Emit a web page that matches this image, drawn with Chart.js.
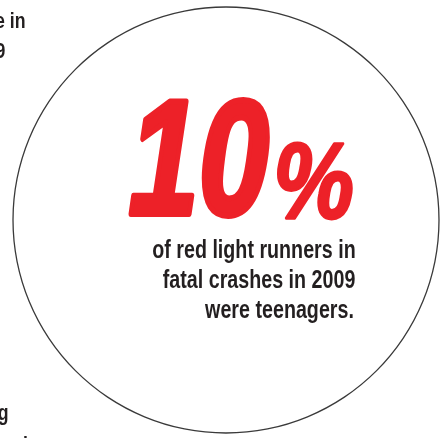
<!DOCTYPE html>
<html>
<head>
<meta charset="utf-8">
<script src="https://cdn.jsdelivr.net/npm/chart.js@4.4.1/dist/chart.umd.min.js"></script>
<style>
  html, body { margin: 0; padding: 0; background: #ffffff; overflow: hidden; }
  #c { display: block; position: absolute; left: 0; top: 0; }
</style>
</head>
<body>
<canvas id="c" width="441" height="438"></canvas>
<script>
// ---- data ----
const circleLabels = ['All red light runners in fatal crashes, 2009'];
const circleShare = [100];            // whole ring = all runners
const headlineValue = [10];           // percent who were teenagers
const headlineUnit = ['%'];
const captionLines = ['of red light runners in', 'fatal crashes in 2009', 'were teenagers.'];
const leftFragmentsTop = ['e in', '9'];
const leftFragmentsBottom = ['g', 'i'];

const RED = '#ed2128';
const INK = '#231f20';

function drawFit(ctx, text, font, color, left, top, right, bottom, weight) {
  ctx.save();
  ctx.font = font;
  ctx.textAlign = 'left';
  ctx.textBaseline = 'alphabetic';
  const m = ctx.measureText(text);
  const inkW = m.actualBoundingBoxLeft + m.actualBoundingBoxRight + weight;
  const inkH = m.actualBoundingBoxAscent + m.actualBoundingBoxDescent + weight;
  const sx = (right - left) / inkW, sy = (bottom - top) / inkH;
  ctx.translate(left, top);
  ctx.scale(sx, sy);
  ctx.fillStyle = color;
  ctx.strokeStyle = color;
  ctx.lineWidth = weight;
  ctx.lineJoin = 'round';
  const x = m.actualBoundingBoxLeft + weight / 2, y = m.actualBoundingBoxAscent + weight / 2;
  ctx.fillText(text, x, y);
  if (weight > 0) ctx.strokeText(text, x, y);
  ctx.restore();
}

function drawRight(ctx, text, rightInk, baseline, sx, sy) {
  ctx.save();
  ctx.textAlign = 'right';
  ctx.textBaseline = 'alphabetic';
  const m = ctx.measureText(text);
  ctx.translate(rightInk, baseline);
  ctx.scale(sx, sy);
  ctx.fillText(text, -m.actualBoundingBoxRight, 0);
  ctx.restore();
}

const textPlugin = {
  id: 'infographicText',
  afterDraw(chart) {
    const ctx = chart.ctx;
    // big "10"
    drawFit(ctx, String(headlineValue[0]), 'bold italic 170px "Liberation Sans", Arial, sans-serif', RED, 128, 97, 270, 219, 6);
    // "%"
    drawFit(ctx, headlineUnit[0], 'bold italic 110px "Liberation Sans", Arial, sans-serif', RED, 277, 142, 353, 220, 3);

    // caption lines
    ctx.save();
    ctx.font = 'bold 26px "Liberation Sans Narrow", "Liberation Sans", Arial, sans-serif';
    ctx.fillStyle = INK;
    const m1 = ctx.measureText(captionLines[0]);
    const w1 = m1.actualBoundingBoxLeft + m1.actualBoundingBoxRight;
    const sx = 202 / w1;
    const asc = ctx.measureText('f').actualBoundingBoxAscent;
    const sy = 19 / asc;
    const baselines = [258, 288, 318];
    const rights = [355, 355, 353];
    captionLines.forEach((t, i) => drawRight(ctx, t, rights[i], baselines[i], sx, sy));

    // fragments of neighbouring text cut by the left edge
    drawRight(ctx, leftFragmentsTop[0], 25, 28, sx * 0.9, sy * 0.88);
    drawRight(ctx, leftFragmentsTop[1], 5, 58, sx * 0.9, sy * 0.88);
    drawRight(ctx, leftFragmentsBottom[0], 8, 420, sx * 0.9, sy * 0.88);
    drawRight(ctx, leftFragmentsBottom[1], 27, 452, sx * 0.9, sy * 0.88);
    ctx.restore();
  }
};

new Chart(document.getElementById('c'), {
  type: 'doughnut',
  data: {
    labels: circleLabels,
    datasets: [{
      data: circleShare,
      backgroundColor: '#3a3a3a',
      borderWidth: 0,
      hoverOffset: 0,
      radius: 213.65,
      cutout: '99.3915%'
    }]
  },
  options: {
    responsive: false,
    animation: false,
    events: [],
    layout: { padding: { left: 11, right: 0, top: 2, bottom: 0 } },
    plugins: { legend: { display: false }, tooltip: { enabled: false } }
  },
  plugins: [textPlugin]
});
</script>
</body>
</html>
